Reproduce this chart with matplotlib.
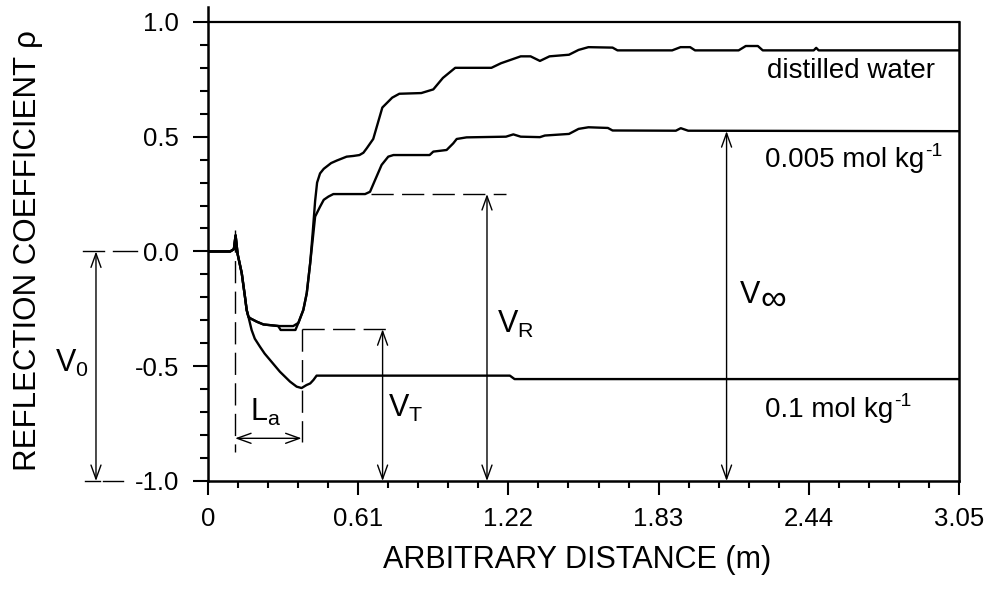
import matplotlib
matplotlib.use("Agg")
import matplotlib.pyplot as plt

plt.rcParams["font.family"] = ["Liberation Sans", "DejaVu Sans"]
plt.rcParams["mathtext.fontset"] = "custom"
plt.rcParams["mathtext.rm"] = "Liberation Sans"
plt.rcParams["mathtext.it"] = "Liberation Sans"
plt.rcParams["mathtext.bf"] = "Liberation Sans"

# reflection coefficient traces, (distance in m, rho)
water_x = [0, 0.09, 0.105, 0.112, 0.12, 0.137, 0.150, 0.157, 0.164, 0.171, 0.198, 0.225,
           0.29, 0.346, 0.367, 0.387, 0.401, 0.415, 0.425, 0.435, 0.443, 0.455, 0.47, 0.482,
           0.50, 0.523, 0.563, 0.59, 0.615, 0.631, 0.645, 0.671, 0.708, 0.748, 0.777, 0.866,
           0.915, 0.954, 1.004, 1.151, 1.19, 1.23, 1.27, 1.31, 1.348, 1.387, 1.466, 1.505,
           1.545, 1.643, 1.663, 1.885, 1.919, 1.958, 1.978, 2.155, 2.184, 2.233, 2.253, 2.46,
           2.47, 2.48, 3.05]
water_y = [0, 0, 0.01, 0.07, -0.01, -0.095, -0.197, -0.255, -0.284, -0.291, -0.306, -0.318,
           -0.325, -0.325, -0.311, -0.255, -0.182, -0.05, 0.08, 0.22, 0.30, 0.34, 0.36, 0.37,
           0.385, 0.396, 0.413, 0.416, 0.42, 0.43, 0.45, 0.49, 0.627, 0.67, 0.687, 0.69,
           0.706, 0.756, 0.80, 0.80, 0.82, 0.835, 0.85, 0.85, 0.83, 0.85, 0.857, 0.878,
           0.89, 0.888, 0.876, 0.876, 0.89, 0.89, 0.876, 0.876, 0.895, 0.895, 0.876, 0.876,
           0.887, 0.876, 0.876]

dilute_x = [0, 0.09, 0.105, 0.112, 0.12, 0.137, 0.150, 0.157, 0.164, 0.171, 0.198, 0.225,
            0.285, 0.295, 0.355, 0.367, 0.387, 0.401, 0.415, 0.425, 0.435, 0.455, 0.47,
            0.489, 0.509, 0.638, 0.658, 0.678, 0.705, 0.732, 0.753, 0.90, 0.915, 0.969,
            0.996, 1.01, 1.05, 1.21, 1.24, 1.27, 1.348, 1.368, 1.466, 1.505, 1.545, 1.624,
            1.643, 1.9, 1.92, 1.95, 3.05]
dilute_y = [0, 0, 0.01, 0.07, -0.01, -0.095, -0.197, -0.255, -0.284, -0.291, -0.306, -0.318,
            -0.325, -0.342, -0.342, -0.311, -0.255, -0.182, -0.05, 0.05, 0.152, 0.195, 0.225,
            0.239, 0.25, 0.25, 0.26, 0.31, 0.377, 0.413, 0.42, 0.42, 0.435, 0.442,
            0.471, 0.49, 0.497, 0.50, 0.51, 0.50, 0.498, 0.505, 0.512, 0.534, 0.541, 0.538,
            0.527, 0.526, 0.537, 0.526, 0.524]

salt_x = [0, 0.09, 0.105, 0.112, 0.12, 0.137, 0.150, 0.157, 0.164, 0.177, 0.19, 0.211,
          0.23, 0.252, 0.292, 0.333, 0.36, 0.38, 0.40, 0.415, 0.428, 0.441, 1.226, 1.245, 3.05]
salt_y = [0, 0, 0.01, 0.07, -0.01, -0.095, -0.197, -0.255, -0.284, -0.342, -0.38, -0.415,
          -0.445, -0.473, -0.524, -0.567, -0.589, -0.595, -0.582, -0.575, -0.56, -0.541,
          -0.541, -0.556, -0.556]

x_ticks = [0, 0.61, 1.22, 1.83, 2.44, 3.05]
x_ticklabels = ["0", "0.61", "1.22", "1.83", "2.44", "3.05"]
y_ticks = [-1.0, -0.5, 0.0, 0.5, 1.0]
y_ticklabels = ["-1.0", "-0.5", "0.0", "0.5", "1.0"]

# levels used by the V / L annotations
v0_x = -0.455
vt_x, vt_top = 0.709, -0.339
vr_x, vr_top = 1.133, 0.25
vinf_x, vinf_top = 2.106, 0.524
la_start, la_end, la_y = 0.11, 0.38, -0.814

fig = plt.figure(figsize=(9.84, 5.92), dpi=100)
ax = fig.add_axes([0.2114, 0.1875, 0.7632, 0.8007])
ax.set_xlim(0, 3.05)
ax.set_ylim(-1.0, 1.065)

ax.plot(water_x, water_y, color="black", lw=1.7)
ax.plot(dilute_x, dilute_y, color="black", lw=1.7)
ax.plot(salt_x, salt_y, color="black", lw=1.7)

# closed frame at rho = 1 and at the far end
ax.plot([0, 3.05], [1.0, 1.0], color="black", lw=1.6, clip_on=False)
ax.plot([3.05, 3.05], [-1.0, 1.0], color="black", lw=1.8, clip_on=False)

for side in ["top", "right"]:
    ax.spines[side].set_visible(False)
for side in ["left", "bottom"]:
    ax.spines[side].set_linewidth(1.8)

ax.set_xticks(x_ticks, x_ticklabels)
ax.set_xticks([i * 0.122 for i in range(26)], minor=True)
ax.set_yticks(y_ticks, y_ticklabels)
ax.set_yticks([i * 0.1 - 1.0 for i in range(21)], minor=True)
ax.tick_params(axis="x", which="major", direction="out", length=10, width=1.5, pad=9, labelsize=18.5)
ax.tick_params(axis="x", which="minor", direction="out", length=5, width=1.5)
ax.tick_params(axis="y", which="major", direction="out", length=11, width=1.5, pad=10, labelsize=18.5)
ax.tick_params(axis="y", which="minor", direction="out", length=6, width=1.5)

ax.text(0.491, -0.167, "ARBITRARY DISTANCE (m)", transform=ax.transAxes,
        ha="center", va="center", fontsize=22)
ax.text(-0.2397, 0.487, "REFLECTION COEFFICIENT ρ", transform=ax.transAxes,
        ha="center", va="center", rotation=90, fontsize=22.5)


def conc_label(x, y, s):
    t = ax.text(x, y, s, fontsize=20)
    ax.annotate("-1", xy=(1.0, 1.0), xycoords=t, xytext=(1, 3), textcoords="offset points",
                ha="left", va="top", fontsize=14)


ax.text(2.27, 0.756, "distilled water", fontsize=20)
conc_label(2.262, 0.368, "0.005 mol kg")
conc_label(2.262, -0.721, "0.1 mol kg")

dash = (0, (16, 6))
dkw = dict(color="black", lw=1.0, linestyle=dash, clip_on=False)
ax.plot([0.66, 1.21], [vr_top, vr_top], **dkw)
ax.plot([la_end, 0.74], [vt_top, vt_top], **dkw)
ax.plot([la_start, la_start], [0.094, -0.872], **dkw)
ax.plot([la_end, la_end], [vt_top, -0.83], **dkw)
# guides from V0 to the axis
ax.plot([-0.508, -0.422], [0, 0], color="black", lw=1.0, clip_on=False)
ax.plot([-0.386, -0.288], [0, 0], color="black", lw=1.0, clip_on=False)
ax.plot([-0.5, -0.44], [-1, -1], color="black", lw=1.0, clip_on=False)
ax.plot([-0.426, -0.345], [-1, -1], color="black", lw=1.0, clip_on=False)

akw = dict(arrowstyle="<->,head_length=0.5,head_width=0.18", lw=1.0, color="black",
           shrinkA=0, shrinkB=0, mutation_scale=20)
for xa, top in [(v0_x, 0.0), (vt_x, vt_top), (vr_x, vr_top), (vinf_x, vinf_top)]:
    ax.annotate("", xy=(xa, -1.0), xytext=(xa, top), arrowprops=akw, annotation_clip=False)
ax.annotate("", xy=(la_end, la_y), xytext=(la_start, la_y), arrowprops=akw, annotation_clip=False)

lab = dict(fontsize=22)
ax.text(-0.621, -0.525, r"V$_{\mathregular{0}}$", clip_on=False, **lab)
ax.text(0.1706, -0.739, r"L$_{\mathregular{a}}$", **lab)
ax.text(0.731, -0.721, r"V$_{\mathregular{T}}$", **lab)
ax.text(1.174, -0.355, r"V$_{\mathregular{R}}$", **lab)
vinf = ax.text(2.16, -0.224, "V", **lab)
ax.annotate("∞", xy=(1.0, 0.0), xycoords=vinf, xytext=(0, -6), textcoords="offset points",
            ha="left", va="bottom", fontsize=26)

fig.savefig("out.png", dpi=100)
